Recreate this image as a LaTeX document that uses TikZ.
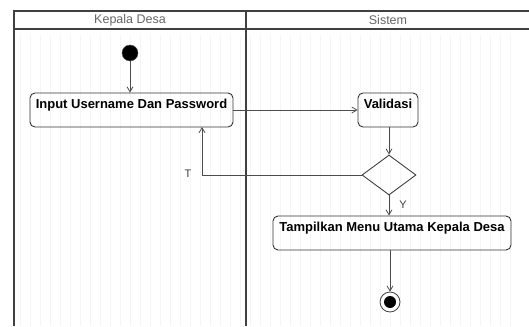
\documentclass[tikz,border=0pt]{standalone}
\usepackage{fontspec}
\setmainfont{Liberation Sans}
\usetikzlibrary{shapes.geometric,arrows.meta}
\begin{document}
\begin{tikzpicture}[x=1pt,y=-1pt,
  lane/.style={draw=black!75,line width=1.6pt},
  act/.style={draw=black!80,line width=0.9pt,rounded corners=5pt,font=\bfseries\fontsize{13}{15}\selectfont,align=center},
  flow/.style={draw=black!70,line width=0.8pt,-{Straight Barb[length=5pt,width=6pt]}},
  hdr/.style={font=\fontsize{12.5}{14}\selectfont,text=black!60},
  lbl/.style={font=\fontsize{11}{13}\selectfont,text=black!75}]
\useasboundingbox (0,0) rectangle (529,326);
% grid
\draw[black!4,line width=0.4pt,step=10] (20,35) grid (515,326);
% swimlanes
\draw[lane] (14,326) -- (14,11) -- (535,11);
\draw[lane] (14,29) -- (535,29);
\draw[lane] (246,11) -- (246,326);
\node[hdr] (h1) at (130,20) {Kepala Desa};
\node[hdr] (h2) at (388,20) {Sistem};
% nodes
\node[circle,fill=black,draw=black!70,minimum size=16pt,inner sep=0pt] (start) at (130,53) {};
\node[act,minimum width=203pt,minimum height=34pt,text depth=13pt,inner sep=2pt] (input) at (131.5,110) {Input Username Dan Password};
\node[act,minimum width=60pt,minimum height=34pt,text depth=13pt,inner sep=2pt] (val) at (388,110) {Validasi};
\node[diamond,draw=black!75,line width=0.9pt,minimum width=54pt,minimum height=40pt,inner sep=0pt,aspect=1.35] (dec) at (389,175) {};
\node[act,minimum width=238pt,minimum height=34pt,text depth=13pt,inner sep=2pt] (menu) at (392,233) {Tampilkan Menu Utama Kepala Desa};
\node[circle,draw=black!75,line width=0.8pt,minimum size=20pt,inner sep=0pt] (end) at (390,302) {};
\node[circle,fill=black,minimum size=12pt,inner sep=0pt] (endin) at (end.center) {};
% flows
\draw[flow] (start) -- (start |- input.north);
\draw[flow] (input.east) -- (val.west);
\draw[flow] (val.south -| dec.north) -- (dec.north);
\draw[flow] (dec.west) -- (202,175) -- (202,127);
\node[lbl] (tl) at (188,174) {T};
\draw[flow] (dec.south) -- (dec.south |- menu.north);
\node[lbl] (yl) at (403,205) {Y};
\draw[flow] (menu.south -| end.north) -- (end.north);
\end{tikzpicture}
\end{document}
